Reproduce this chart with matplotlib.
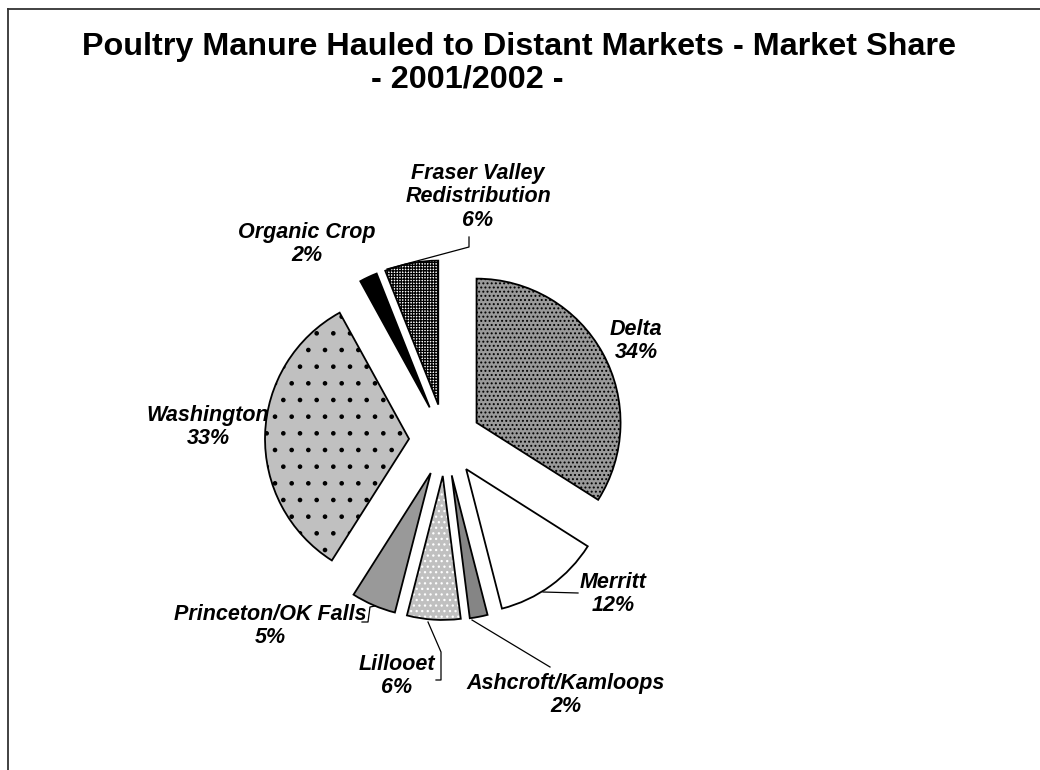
import matplotlib
matplotlib.use("Agg")
import matplotlib.pyplot as plt
import matplotlib.patches as mpatches
from matplotlib.lines import Line2D

W, H = 1040, 770

# ---- data ----
categories = ["Delta", "Merritt", "Ashcroft/Kamloops", "Lillooet",
              "Princeton/OK Falls", "Washington", "Organic Crop",
              "Fraser Valley\nRedistribution"]
shares = [34, 12, 2, 6, 5, 33, 2, 6]
title_line1 = "Poultry Manure Hauled to Distant Markets - Market Share"
title_line2 = "- 2001/2002 -"

# ---- styles ----
faces = ["#9a9a9a", "white", "#858585", "#c0c0c0", "#999999", "#c0c0c0", "black", "white"]
hatches = ["....", None, None, "...", None, ".", None, "++++++"]
hatch_cols = ["black", None, None, "white", None, "black", None, "black"]

plt.rcParams["hatch.linewidth"] = 0.9

fig = plt.figure(figsize=(W / 100, H / 100), dpi=100)
ax = fig.add_axes([0, 0, 1, 1])

def Y(y):  # pixel (top-down) to data y
    return H - y

center = (445, Y(440))
radius = 144
explode = [36] * len(shares)

wedges, _ = ax.pie(shares, startangle=90, counterclock=False, center=center,
                   radius=radius, explode=explode, colors=faces,
                   wedgeprops=dict(linewidth=1.3, edgecolor="black"), frame=True)

for w, h, hc in zip(wedges, hatches, hatch_cols):
    if h:
        w.set_hatch(h)
        w.set_edgecolor(hc)
        w.set_linewidth(0)
        outline = mpatches.Wedge(w.center, w.r, w.theta1, w.theta2, fill=False,
                                 edgecolor="black", linewidth=1.3, zorder=w.zorder + 0.1)
        ax.add_patch(outline)

ax.set_xlim(0, W)
ax.set_ylim(0, H)
ax.set_aspect("equal")
ax.axis("off")

font = dict(family=["Liberation Sans", "DejaVu Sans"])
lab_kw = dict(fontsize=15.5, fontweight="bold", fontstyle="italic", ha="center",
              va="center", linespacing=1.15, **font)

label_pos = [(636, 341), (613, 594), (566, 695), (397, 676), (270, 626),
             (208, 427), (307, 244), (478, 197)]
for name, val, (x, y) in zip(categories, shares, label_pos):
    ax.text(x, Y(y), f"{name}\n{val}%", **lab_kw)

# leader lines
lk = dict(color="black", linewidth=0.9)
ax.plot([543, 578], [Y(592), Y(593)], **lk)                      # Merritt
ax.plot([472, 550], [Y(620), Y(667)], **lk)                      # Ashcroft
ax.plot([428, 441, 441, 436], [Y(622), Y(652), Y(680), Y(680)], **lk)  # Lillooet
ax.plot([375, 370, 368, 362], [Y(606), Y(607), Y(622), Y(622)], **lk)  # Princeton
ax.plot([387, 469, 469], [Y(269), Y(247), Y(237)], **lk)         # Fraser

# titles
fig.text(519 / W, 1 - 47 / H, title_line1, fontsize=23.3, fontweight="bold",
         ha="center", va="center", **font)
fig.text(467 / W, 1 - 80 / H, title_line2, fontsize=23.3, fontweight="bold",
         ha="center", va="center", **font)

# frame lines
fig.add_artist(Line2D([8 / W, 1], [1 - 9 / H, 1 - 9 / H], transform=fig.transFigure,
                      color="#333333", linewidth=1.3))
fig.add_artist(Line2D([8 / W, 8 / W], [0, 1 - 9 / H], transform=fig.transFigure,
                      color="#333333", linewidth=1.3))

fig.savefig("out.png", dpi=100)
